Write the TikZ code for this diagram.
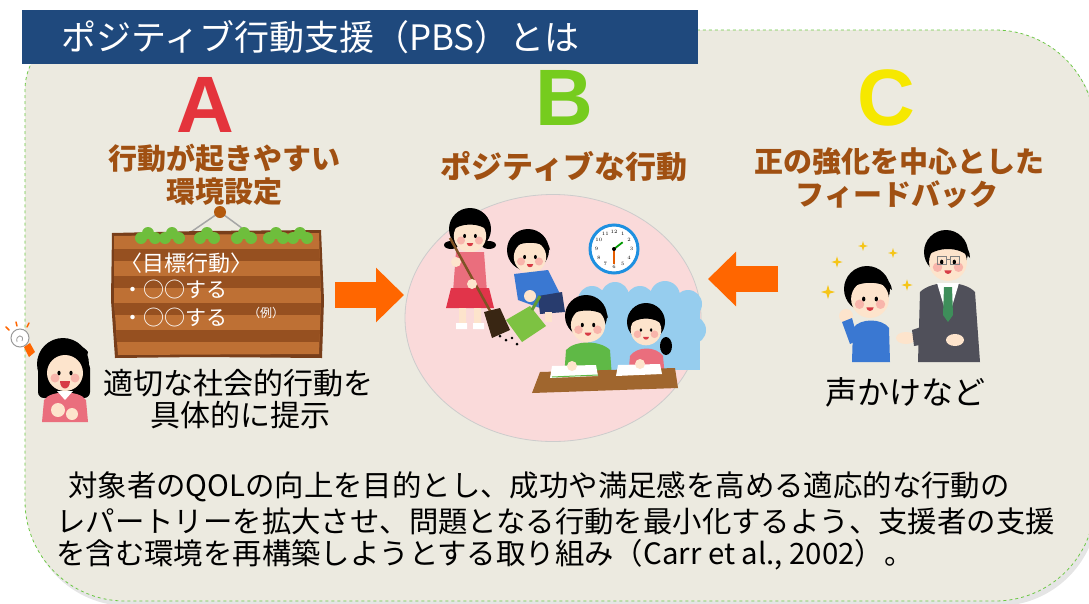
\documentclass[tikz,border=0pt]{standalone}
\usepackage{fontspec}
\newfontfamily\jp{Noto Sans CJK JP}
\newfontfamily\letterfont{Liberation Sans}
\usetikzlibrary{shapes.geometric,arrows.meta}

\definecolor{panelbg}{RGB}{236,234,224}
\definecolor{panelline}{RGB}{110,200,70}
\definecolor{titleblue}{RGB}{31,73,125}
\definecolor{headbrown}{RGB}{160,80,18}
\definecolor{arroworange}{RGB}{255,102,0}
\definecolor{scenepink}{RGB}{250,218,218}
\definecolor{skin}{RGB}{253,228,204}
\definecolor{cheek}{RGB}{245,150,150}
\definecolor{mouthred}{RGB}{215,60,70}
\definecolor{shirtpink}{RGB}{234,110,125}
\definecolor{skirtred}{RGB}{225,52,74}
\definecolor{shirtblue}{RGB}{58,120,210}
\definecolor{shirtgreen}{RGB}{95,185,70}
\definecolor{navy}{RGB}{40,60,110}
\definecolor{panGreen}{RGB}{125,194,66}
\definecolor{skyblue}{RGB}{150,205,238}
\definecolor{deskbrown}{RGB}{160,102,46}
\definecolor{suitgray}{RGB}{80,80,90}
\definecolor{tiegreen}{RGB}{62,142,90}
\definecolor{sparkleyellow}{RGB}{245,197,24}
\definecolor{clockblue}{RGB}{30,144,224}
\definecolor{boardlight}{RGB}{190,112,52}
\definecolor{boarddark}{RGB}{150,80,32}
\definecolor{boardedge}{RGB}{120,62,26}
\definecolor{leafgreen}{RGB}{110,190,60}
\definecolor{redA}{RGB}{228,52,60}
\definecolor{greenB}{RGB}{118,204,30}
\definecolor{yellowC}{RGB}{246,232,0}

\tikzset{
  titletext/.style={font=\jp\fontsize{35}{38}\selectfont, text=white, inner sep=0pt},
  heading/.style={font=\jp\bfseries\fontsize{29}{32}\selectfont, text=headbrown, inner sep=0pt},
  caption/.style={font=\jp\fontsize{30}{34}\selectfont, text=black, inner sep=0pt},
  bodyline/.style={font=\jp\fontsize{29.4}{34}\selectfont, text=black, inner sep=0pt, anchor=west},
  signtext/.style={font=\jp\fontsize{21}{24}\selectfont, text=white, inner sep=0pt},
  bigletter/.style={font=\letterfont\bfseries\fontsize{80}{82}\selectfont, inner sep=0pt},
  blockarrow/.style={draw=arroworange, line width=26pt,
    -{Triangle[length=28pt, width=53pt]}},
  face/.pic={
    \fill[skin] (0,0) circle (18);
    \fill[cheek,opacity=.6] (-10,5) circle (4.5) (10,5) circle (4.5);
    \fill[black] (-6,0) ellipse [x radius=1.6, y radius=2.3]
                 (6,0) ellipse [x radius=1.6, y radius=2.3];
    \fill[mouthred] (-3.5,8) .. controls (-3,12.5) and (3,12.5) .. (3.5,8) -- cycle;
  },
  sparkle/.pic={
    \fill[sparkleyellow] (0,-7) -- (1.6,-1.6) -- (7,0) -- (1.6,1.6) -- (0,7)
      -- (-1.6,1.6) -- (-7,0) -- (-1.6,-1.6) -- cycle;
  },
}

\begin{document}
\begin{tikzpicture}[x=1pt,y=-1pt]
\useasboundingbox (0,0) rectangle (1089,603);
\fill[white] (0,0) rectangle (1089,603);

% rounded panel with a soft shadow and a dashed green rim
\fill[black,opacity=.10,rounded corners=100pt] (28,34) rectangle (1098,606);
\draw[fill=panelbg, draw=panelline, dashed, line width=0.8pt]
  (25,300) [rounded corners=60pt] -- (25,30) [rounded corners=100pt] -- (1095,30)
  -- (1095,601) -- (25,601) -- cycle;

% title bar
\node[fill=titleblue, anchor=north west, minimum width=676pt, minimum height=54pt,
      inner sep=0pt] (titlebar) at (22,10) {};
\node[titletext, anchor=west] (title) at (61,37) {ポジティブ行動支援（PBS）とは};

% ---------- A / B / C letters ----------
\node[bigletter, text=redA] (letA) at (205,105) {A};
\node[bigletter, text=greenB] (letB) at (564,98) {B};
\node[bigletter, text=yellowC] (letC) at (886,98) {C};

% ---------- headings ----------
\node[heading] (headA1) at (224,158) {行動が起きやすい};
\node[heading] (headA2) at (224,192) {環境設定};
\node[heading, font=\jp\bfseries\fontsize{31}{34}\selectfont] (headB) at (564,167) {ポジティブな行動};
\node[heading] (headC1) at (899,162) {正の強化を中心とした};
\node[heading] (headC2) at (897,195) {フィードバック};

% ---------- signboard ----------
\node[minimum width=210pt, minimum height=125pt, inner sep=0pt] (board) at (217,294) {};
\draw[gray!70, line width=1.5pt] (188,234) -- (220,212) -- (250,234);
\fill[boardedge] (112,233) -- (200,231) -- (321,230) -- (324,300) -- (322,358)
  -- (200,357) -- (115,358) -- (111,300) -- cycle;
\begin{scope}
  \clip (114,236) -- (319,233) -- (321,300) -- (319,354) -- (118,355) -- (114,300) -- cycle;
  \fill[boardlight] (100,225) rectangle (330,360);
  \foreach \yy in {249,276,303,330}
    \fill[boarddark] (100,\yy) rectangle (330,\yy+12);
\end{scope}
\fill[headbrown!80!orange] (220,212) circle (6);
\foreach \lx in {148,172,207,244,276,300}
  \fill[leafgreen] (\lx-7,238) circle (6) (\lx,233) circle (6) (\lx+7,238) circle (6);
\node[signtext, font=\jp\fontsize{22}{24}\selectfont] (goal) at (186,263) {〈目標行動〉};
\node[signtext, anchor=west] (item1) at (122,290) {・○○する};
\node[signtext, anchor=west] (item2) at (122,318) {・○○する};
\node[signtext, font=\jp\fontsize{12}{14}\selectfont] (example) at (266,313) {（例）};

% ---------- teacher girl with idea bulb ----------
\draw[gray!80, fill=white, line width=1pt] (20,338) circle (9);
\draw[gray!80, line width=0.8pt] (17,342) .. controls (15,334) and (25,334) .. (22,341);
\fill[arroworange] (24,347) -- (30,343) -- (35,352) -- (29,357) -- cycle;
\draw[arroworange, line width=1.5pt, line cap=round]
  (9,330) -- (6,327) (17,326) -- (16,322) (27,327) -- (29,323);
\fill[black] (63,364) circle (26);
\fill[black, rounded corners=6pt] (38,362) rectangle (90,398);
\fill[shirtpink] (42,422) -- (44,400) .. controls (50,390) and (80,390) .. (86,400)
  -- (88,422) -- cycle;
\fill[white] (57,391) -- (73,391) -- (65,400) -- cycle;
\pic at (65,373) {face};
\fill[mouthred] (60,381) .. controls (60,391) and (70,391) .. (70,381) -- cycle;
\fill[black] (42,350) .. controls (50,340) and (80,340) .. (88,352) -- (86,360)
  .. controls (75,352) and (55,352) .. (44,362) -- cycle;
\fill[skin] (58,410) circle (7) (72,414) circle (6);

% ---------- caption A ----------
\node[caption] (capA1) at (238,383) {適切な社会的行動を};
\node[caption] (capA2) at (240,415) {具体的に提示};

% ---------- arrows ----------
\coordinate (arrowAfrom) at (335,295);
\coordinate (arrowAto) at (404,295);
\coordinate (arrowCfrom) at (778,279);
\coordinate (arrowCto) at (708,279);
\draw[blockarrow] (arrowAfrom) -- (arrowAto);
\draw[blockarrow] (arrowCfrom) -- (arrowCto);

% ---------- scene of positive behaviour ----------
\node[ellipse, fill=scenepink, draw=gray!40, line width=0.8pt,
      minimum width=296pt, minimum height=247pt, inner sep=0pt] (scene) at (553,318) {};

% clock
\node[circle, draw=clockblue, line width=3pt, fill=white, minimum size=48pt,
      inner sep=0pt] (clock) at (614,249) {};
\foreach \h in {1,...,12}
  \node[font=\fontsize{5}{5}\selectfont, inner sep=0pt]
    at ([shift={(614,249)}] {30*\h-90}:17.5) {\h};
\draw[arroworange!90!black, line width=2pt] (clock.center) -- ++(90:15);
\draw[green!60!black, line width=1.8pt] (clock.center) -- ++(-38:11);
\fill[black] (clock.center) circle (2);

% sweeping girl
\fill[black] (451,245) ellipse [x radius=7, y radius=4] (489,245) ellipse [x radius=7, y radius=4];
\fill[black] (470,229) circle (21);
\pic[scale=0.9] at (470,236) {face};
\fill[black] (450,232) .. controls (452,212) and (488,212) .. (490,232)
  .. controls (480,222) and (460,222) .. cycle;
\fill[shirtpink] (456,252) -- (484,252) -- (487,292) -- (453,292) -- cycle;
\fill[skirtred] (451,288) -- (489,288) -- (494,308) -- (446,308) -- cycle;
\fill[skin] (459,308) rectangle (466,324) (474,308) rectangle (481,324);
\fill[white] (456,323) rectangle (467,329) (473,323) rectangle (484,329);
\draw[deskbrown!80!black, line width=2.5pt] (450,238) -- (494,318);
\fill[black!70!brown] (484,312) -- (500,308) -- (510,330) -- (492,338) -- cycle;
\fill[skin] (456,262) circle (5) (472,284) circle (5);

% crouching boy with dustpan
\fill[black] (528,250) circle (21);
\pic[scale=0.9] at (530,257) {face};
\fill[black] (508,252) .. controls (510,232) and (548,232) .. (550,250)
  .. controls (540,240) and (518,240) .. cycle;
\fill[shirtblue] (514,274) -- (548,270) -- (562,298) -- (540,308) -- (518,300) -- cycle;
\fill[navy] (538,296) -- (562,292) -- (565,312) -- (540,314) -- cycle;
\fill[skin] (545,312) rectangle (552,322);
\fill[panGreen] (506,320) -- (530,306) -- (546,326) -- (522,342) -- cycle;
\draw[panGreen!80!black, line width=3pt] (532,310) -- (540,296);
\fill[skin] (530,296) circle (6);
\fill[black] (500,336) circle (1.5) (506,340) circle (1.5) (512,338) circle (1.3) (517,344) circle (1.5);

% study group
\fill[skyblue] (592,300) circle (14) (615,296) circle (14) (640,300) circle (14)
  (665,296) circle (15) (688,304) circle (14) (692,330) circle (14);
\fill[skyblue] (588,300) rectangle (700,370);
\fill[black] (586,316) circle (21);
\pic[scale=0.95] at (588,325) {face};
\fill[black] (566,318) .. controls (568,298) and (606,298) .. (608,318)
  .. controls (598,308) and (576,308) .. cycle;
\fill[shirtgreen] (564,378) -- (566,350) .. controls (575,340) and (600,340) .. (610,350)
  -- (612,378) -- cycle;
\fill[black] (666,346) ellipse [x radius=6, y radius=9];
\fill[black] (646,322) circle (19);
\pic[scale=0.85] at (646,330) {face};
\fill[black] (628,326) .. controls (630,306) and (662,306) .. (664,326)
  .. controls (655,316) and (637,316) .. cycle;
\fill[shirtpink] (628,378) -- (630,356) .. controls (637,346) and (656,346) .. (663,356)
  -- (665,378) -- cycle;
\fill[deskbrown] (540,372) -- (675,368) -- (678,388) -- (532,393) -- cycle;
\fill[white] (552,366) -- (596,365) -- (598,376) -- (550,378) -- cycle;
\fill[white] (618,365) -- (660,364) -- (662,374) -- (616,376) -- cycle;
\draw[shirtgreen, line width=1pt] (552,377) -- (598,375);
\fill[skin] (572,366) circle (5) (640,364) circle (5);

% ---------- praised boy and teacher ----------
\pic at (828,292) {sparkle};
\pic[scale=0.8] at (837,262) {sparkle};
\pic[scale=0.7] at (863,246) {sparkle};
\pic[scale=0.7] at (893,253) {sparkle};
\pic[scale=0.8] at (907,285) {sparkle};
\fill[black] (867,289) circle (23);
\pic[scale=1.05] at (870,299) {face};
\fill[black] (846,292) .. controls (848,268) and (890,268) .. (892,290)
  .. controls (880,280) and (858,280) .. cycle;
\fill[shirtblue] (852,362) -- (853,328) .. controls (860,318) and (882,318) .. (889,328)
  -- (890,362) -- cycle;
\fill[skin] (846,316) circle (7);
\fill[shirtblue] (842,322) -- (852,318) -- (858,340) -- (850,344) -- cycle;

\fill[suitgray] (918,362) -- (920,292) .. controls (932,280) and (964,280) .. (975,292)
  -- (980,362) -- cycle;
\fill[white] (937,283) -- (959,283) -- (948,320) -- cycle;
\fill[tiegreen] (944,287) -- (952,287) -- (953,315) -- (948,322) -- (943,315) -- cycle;
\fill[black] (946,252) circle (22);
\pic[scale=1.05] at (948,262) {face};
\fill[black] (925,258) .. controls (924,232) and (970,232) .. (970,258)
  .. controls (960,246) and (936,246) .. cycle;
\draw[gray, line width=0.8pt] (937,256) rectangle (946,264) (950,256) rectangle (959,264)
  (946,259) -- (950,259);
\fill[skin] (906,338) ellipse [x radius=10, y radius=6];
\fill[suitgray] (912,330) -- (924,326) -- (926,344) -- (914,346) -- cycle;
\fill[skin] (955,340) ellipse [x radius=9, y radius=6];

\node[caption, font=\jp\fontsize{32}{36}\selectfont] (capC) at (905,392) {声かけなど};

% ---------- definition text ----------
\node[bodyline] (body1) at (68,487) {対象者のQOLの向上を目的とし、成功や満足感を高める適応的な行動の};
\node[bodyline] (body2) at (56,521) {レパートリーを拡大させ、問題となる行動を最小化するよう、支援者の支援};
\node[bodyline] (body3) at (56,555) {を含む環境を再構築しようとする取り組み（Carr et al., 2002）。};
\end{tikzpicture}
\end{document}
